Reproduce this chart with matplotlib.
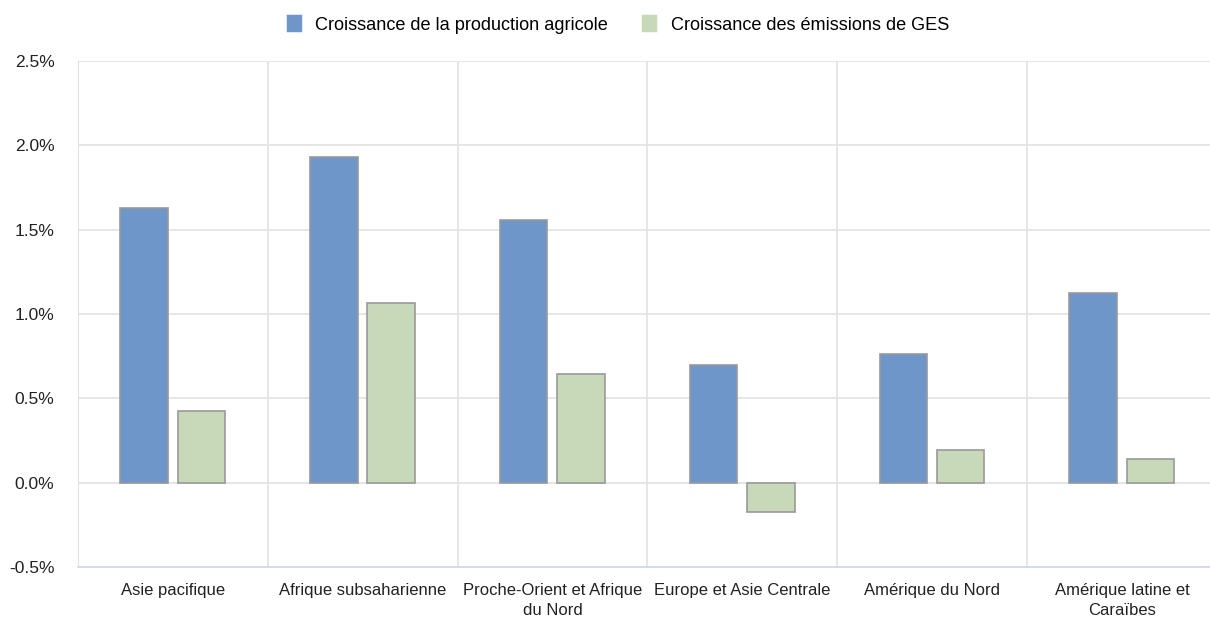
import numpy as np
import matplotlib
matplotlib.use("Agg")
import matplotlib.pyplot as plt
from matplotlib.patches import Patch
from matplotlib.ticker import FuncFormatter, MultipleLocator

plt.rcParams['font.family'] = ['Liberation Sans', 'DejaVu Sans']

regions = ["Asie pacifique", "Afrique subsaharienne", "Proche-Orient et Afrique\ndu Nord",
           "Europe et Asie Centrale", "Amérique du Nord", "Amérique latine et\nCaraïbes"]
prod_growth = [1.63, 1.93, 1.56, 0.70, 0.76, 1.125]
ges_growth = [0.425, 1.068, 0.645, -0.172, 0.196, 0.142]
series_names = ["Croissance de la production agricole", "Croissance des émissions de GES"]

BLUE = "#6f96c8"
GREEN = "#c8d9b9"
EDGE = "#999999"
GRID = "#e2e2e2"

fig = plt.figure(figsize=(12.1, 6.18), dpi=100)
# plot area in pixels: x 78..1217, y 61..567
ax = fig.add_axes([78 / 1210, 1 - 567 / 618, (1217 - 78) / 1210, (567 - 61) / 618])

x = np.arange(len(regions))
w = 0.25
ax.bar(x - 0.152, prod_growth, w, color=BLUE, edgecolor=EDGE, linewidth=1.2, zorder=3)
ax.bar(x + 0.150, ges_growth, w, color=GREEN, edgecolor=EDGE, linewidth=1.2, zorder=3)

ax.set_xlim(-0.5, len(regions) - 0.5)
ax.set_ylim(-0.5, 2.5)
ax.yaxis.set_major_locator(MultipleLocator(0.5))
ax.yaxis.set_major_formatter(FuncFormatter(lambda v, p: f"{v:.1f}%"))

# vertical separators between categories
for b in np.arange(0.5, len(regions) - 0.5, 1):
    ax.axvline(b, color=GRID, lw=1.2, zorder=1)
ax.axvline(-0.5, color=GRID, lw=1.5, zorder=1)
ax.yaxis.grid(True, color=GRID, lw=1.2, zorder=1)
ax.set_axisbelow(True)

for s in ["top", "right", "left"]:
    ax.spines[s].set_visible(False)
ax.spines["bottom"].set_color("#ccd6eb")
ax.spines["bottom"].set_linewidth(1.2)

ax.set_xticks(x)
ax.set_xticklabels(regions, fontsize=12, color="#222222", linespacing=1.45)
ax.tick_params(axis="x", length=0, pad=11.5)
ax.tick_params(axis="y", length=0, labelsize=12.5, labelcolor="#222222", pad=17)

handles = [Patch(facecolor=c, edgecolor=c, linewidth=2.5, joinstyle="round")
           for c in (BLUE, GREEN)]
fig.legend(handles, series_names, loc="center", bbox_to_anchor=(0.511, 1 - 25 / 618),
           ncol=2, frameon=False, fontsize=13.1, handlelength=0.65, handleheight=0.8,
           columnspacing=1.95, handletextpad=0.85)

fig.savefig("out.png", dpi=100)
